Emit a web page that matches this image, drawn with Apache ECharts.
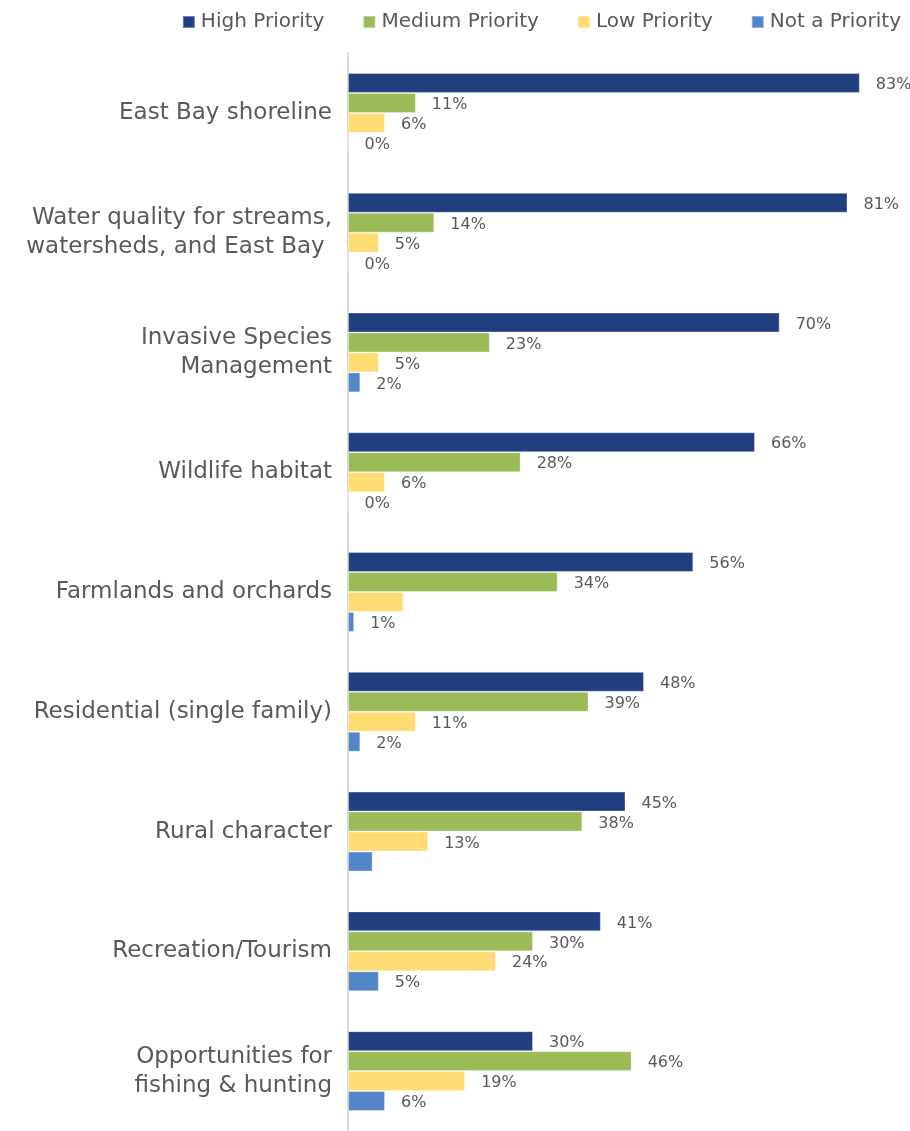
<!DOCTYPE html>
<html><head><meta charset="utf-8">
<script src="https://cdn.jsdelivr.net/npm/echarts@6/dist/echarts.min.js"></script>
<style>html,body{margin:0;padding:0;background:#fff}#c{width:910px;height:1131px}</style>
</head><body><div id="c"></div>
<script>
const categories = ["East Bay shoreline","Water quality for streams,\nwatersheds, and East Bay ","Invasive Species\nManagement","Wildlife habitat","Farmlands and orchards","Residential (single family)","Rural character","Recreation/Tourism","Opportunities for\nfishing & hunting"];
const seriesNames = ["High Priority","Medium Priority","Low Priority","Not a Priority"];
const highPriority = [83,81,70,66,56,48,45,41,30];
const mediumPriority = [11,14,23,28,34,39,38,30,46];
const lowPriority = [6,5,5,6,9,11,13,24,19];
const notPriority = [0,0,2,0,1,2,4,5,6];
// labels that are not shown in the original: [seriesIndex, categoryIndex]
const hiddenLabels = [[2,4],[3,6]];
const colors = ["#213F7E","#9BBB59","#FFDC73","#5386C8"];
const FONT = "'DejaVu Sans', sans-serif";

const allData = [highPriority, mediumPriority, lowPriority, notPriority];
const chart = echarts.init(document.getElementById('c'));
chart.setOption({
  animation:false,
  textStyle:{fontFamily:FONT},
  legend:{
    top:7, right:4, itemWidth:12, itemHeight:12, itemGap:38,
    icon:'rect',
    textStyle:{fontSize:20,color:'#595959',fontFamily:FONT, padding:[0,0,0,1]},
    data:seriesNames
  },
  grid:{left:348, right:7, top:53, height:1083, containLabel:false},
  xAxis:{type:'value', min:0, max:90, show:false, splitLine:{show:false}},
  yAxis:{type:'category', inverse:true, data:categories,
    axisLine:{show:true, lineStyle:{color:'#D9D9D9', width:2}},
    axisTick:{show:false},
    axisLabel:{margin:16, fontSize:23, color:'#595959', fontFamily:FONT, lineHeight:29, align:'right', padding:[6,0,0,0]}
  },
  series: allData.map((d,si)=>({
    name:seriesNames[si], type:'bar', data:d,
    barGap:'0%', barCategoryGap:'33.3%',
    itemStyle:{color:colors[si], borderColor:'rgba(255,255,255,0.35)', borderWidth:1},
    label:{show:true, position:'right', distance:16, fontSize:16, color:'#595959', fontFamily:FONT,
      offset:[0,2],
      formatter:(p)=> hiddenLabels.some(h=>h[0]===si && h[1]===p.dataIndex) ? '' : p.value+'%'}
  }))
});
</script></body></html>
